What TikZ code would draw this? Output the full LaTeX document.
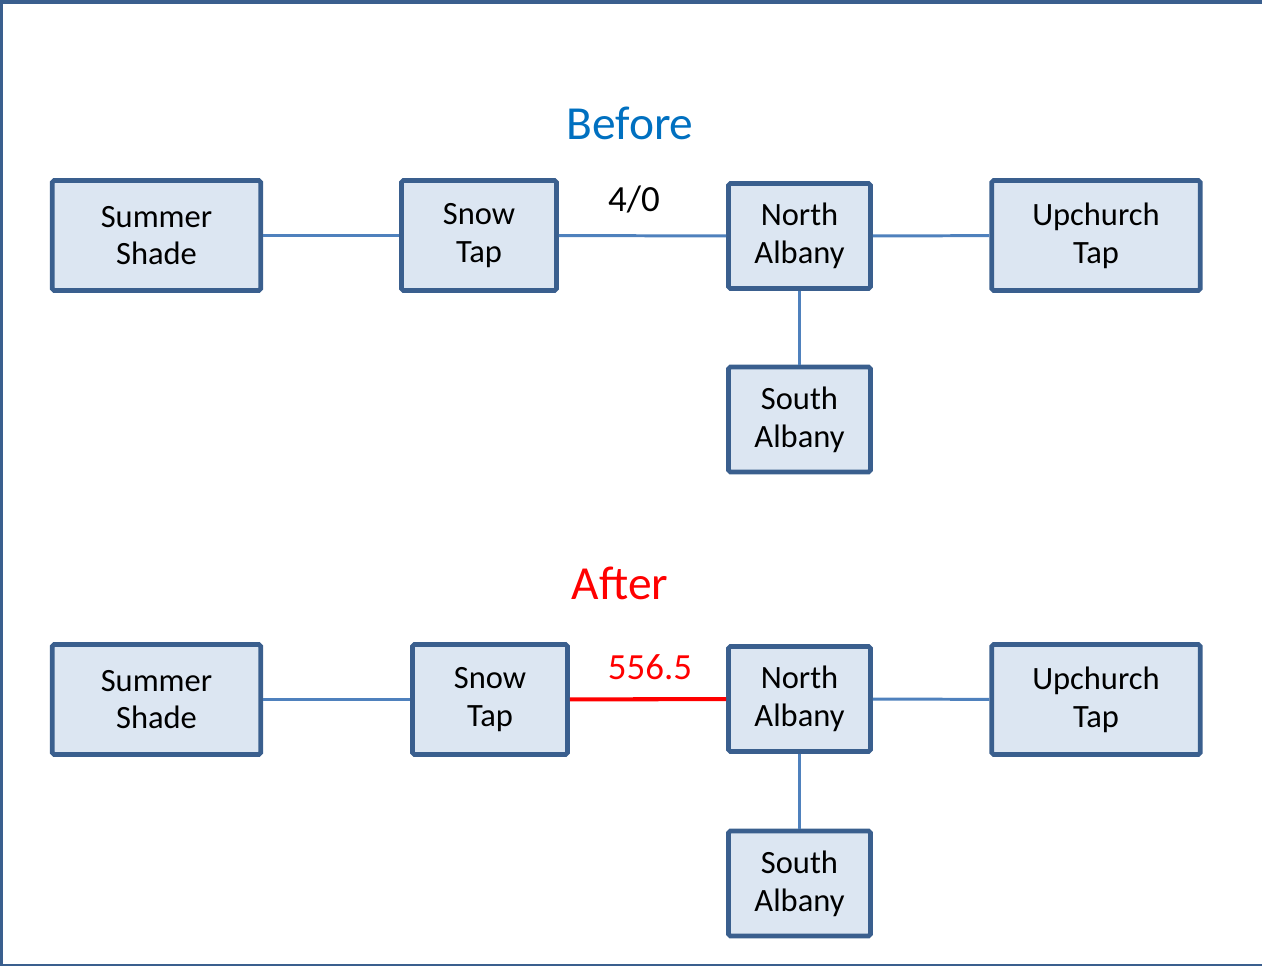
\documentclass[tikz,border=0pt]{standalone}
\usepackage{fontspec}
\setmainfont{Carlito}
\usepackage{tikz}
\usetikzlibrary{positioning}

\definecolor{boxline}{HTML}{3A5F8E}
\definecolor{boxfill}{HTML}{DCE6F2}
\definecolor{wire}{HTML}{4F81BD}
\definecolor{titleblue}{HTML}{0070C0}

\begin{document}
\begin{tikzpicture}
    [
    x=0.02cm, y=-0.02cm,
    bus/.style={draw=boxline, fill=boxfill, line width=2.6pt, rounded corners=1pt,
      align=center, inner sep=0pt, font=\fontsize{18.5}{21.5}\selectfont},
    wide/.style={bus, minimum width=4.17cm, minimum height=2.2cm},
    mid/.style={bus, minimum width=3.1cm, minimum height=2.2cm},
    narrow/.style={bus, minimum width=2.84cm, minimum height=2.1cm},
    line/.style={draw=wire, line width=1.7pt},
    ]
    \useasboundingbox (0,0) rectangle (1262,966);
    \draw [boxline, line width=1.7pt] (1.5,0) -- (1.5,966);
    \draw [boxline, line width=2.3pt] (0,2) -- (1262,2);
    \draw [boxline, line width=1.3pt] (0,965) -- (1262,965);

    % before
    \node (before) at (630,123) [text=titleblue, font=\fontsize{27}{28}\selectfont] {Before};
    \node (ss1) at (156.5,235.5) [wide] {Summer\\Shade};
    \node (st1) at (479,235.5) [mid] {Snow\\Tap};
    \node (na1) at (799.5,236) [narrow] {North\\Albany};
    \node (ut1) at (1096,235.5) [wide] {Upchurch\\Tap};
    \node (sa1) at (799.5,419.5) [narrow] {South\\Albany};
    \node (c1) at (634,199) [font=\fontsize{21}{22}\selectfont] {4/0};
    \draw [line] (ss1) to (st1);
    \draw [line] (st1) to (na1);
    \draw [line] (na1) to (ut1);
    \draw [line] (na1) to (sa1);

    % after
    \node (after) at (620,583) [text=red, font=\fontsize{27}{28}\selectfont] {After};
    \node (ss2) at (156.5,699.5) [wide] {Summer\\Shade};
    \node (st2) at (490,699.5) [mid] {Snow\\Tap};
    \node (na2) at (799.5,699) [narrow] {North\\Albany};
    \node (ut2) at (1096,699.5) [wide] {Upchurch\\Tap};
    \node (sa2) at (799.5,883.5) [narrow] {South\\Albany};
    \node (c2) at (650,667) [text=red, font=\fontsize{21}{22}\selectfont] {556.5};
    \draw [line] (ss2) to (st2);
    \draw [red, line width=2.3pt] (st2) to (na2);
    \draw [line] (na2) to (ut2);
    \draw [line] (na2) to (sa2);
  \end{tikzpicture}
\end{document}
